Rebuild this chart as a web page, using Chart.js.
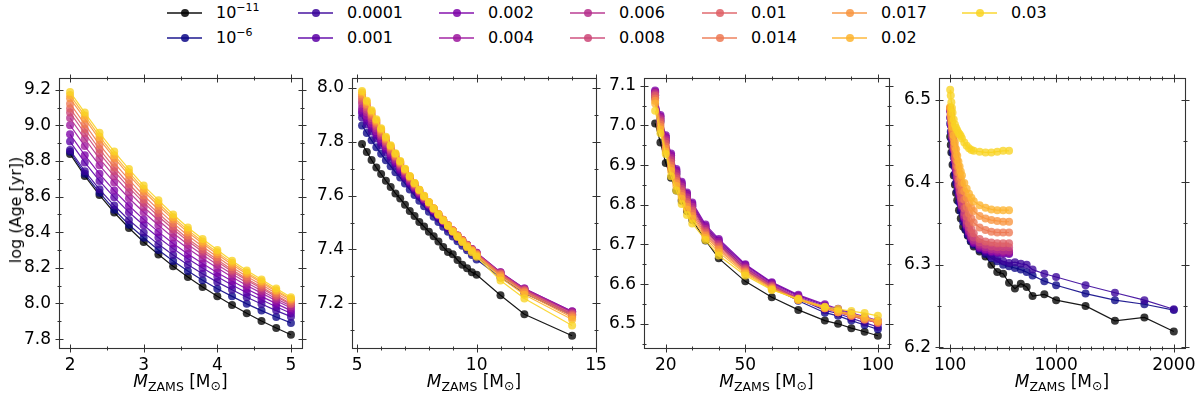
<!DOCTYPE html>
<html><head><meta charset="utf-8">
<script src="https://cdn.jsdelivr.net/npm/chart.js@4.4.1/dist/chart.umd.min.js"></script>
<style>
html,body{margin:0;padding:0;background:#fff;width:1200px;height:398px;overflow:hidden;font-family:'DejaVu Sans',sans-serif;}
#wrap{position:relative;width:1200px;height:398px;}
canvas.pc{position:absolute;top:60px;}
.lgl{position:absolute;height:2px;}
.lgd{position:absolute;width:8px;height:8px;border-radius:50%;}
.lgt{position:absolute;font-size:16px;line-height:18px;color:#000;white-space:nowrap;}
.lgt sup{font-size:11px;line-height:0;vertical-align:baseline;position:relative;top:-7px;}
.xt{position:absolute;top:371px;font-size:17px;line-height:20px;white-space:nowrap;transform:translateX(-50%);color:#000;}
.xt sub{font-size:12.5px;position:relative;top:3px;vertical-align:baseline;line-height:0;}
.xt sub.s{top:4px;}
.yt{position:absolute;left:16px;top:210px;font-size:16px;line-height:18px;white-space:nowrap;transform:translate(-50%,-50%) rotate(-90deg);color:#000;}
</style></head>
<body><div id="wrap"></div>
<script>
// ---------- series labels & colours ----------
const Z_LABELS = ['10<sup>−11</sup>','10<sup>−6</sup>','0.0001','0.001','0.002','0.004','0.006','0.008','0.01','0.014','0.017','0.02','0.03'];
const COLORS = ['#000000','#0d0887','#3a049a','#5c01a6','#7e03a8','#9c179e','#b52f8c','#cc4778','#de5f65','#ed7953','#f89540','#fdb42f','#f9d423'];

// ---------- panel 1 (2-5 Msun) ----------
const P1_MASS = [2.0,2.2,2.4,2.6,2.8,3.0,3.2,3.4,3.6,3.8,4.0,4.2,4.4,4.6,4.8,5.0];
const P1_Z_1e11 = [8.840,8.716,8.609,8.511,8.424,8.345,8.275,8.209,8.149,8.093,8.040,7.991,7.945,7.902,7.862,7.824];
const P1_Z_1e6  = [8.852,8.728,8.622,8.527,8.442,8.369,8.300,8.238,8.183,8.131,8.083,8.040,7.998,7.960,7.924,7.891];
const P1_Z_1e4  = [8.862,8.743,8.641,8.550,8.469,8.398,8.332,8.272,8.218,8.167,8.120,8.077,8.035,7.997,7.960,7.926];
const P1_Z_001  = [8.909,8.792,8.688,8.596,8.512,8.439,8.371,8.308,8.251,8.199,8.150,8.104,8.060,8.021,7.982,7.945];
const P1_Z_002  = [8.950,8.833,8.728,8.634,8.549,8.472,8.402,8.337,8.278,8.224,8.173,8.126,8.081,8.040,7.999,7.960];
const P1_Z_004  = [9.001,8.884,8.776,8.680,8.591,8.512,8.439,8.370,8.309,8.252,8.199,8.149,8.101,8.058,8.015,7.975];
const P1_Z_006  = [9.041,8.925,8.814,8.715,8.625,8.542,8.467,8.396,8.331,8.273,8.218,8.165,8.116,8.072,8.027,7.985];
const P1_Z_008  = [9.072,8.956,8.843,8.743,8.651,8.566,8.490,8.417,8.351,8.291,8.234,8.180,8.130,8.084,8.038,7.995];
const P1_Z_010  = [9.095,8.980,8.866,8.764,8.671,8.584,8.506,8.432,8.364,8.303,8.245,8.190,8.139,8.092,8.045,8.000];
const P1_Z_014  = [9.122,9.007,8.892,8.790,8.695,8.606,8.527,8.451,8.382,8.320,8.261,8.204,8.152,8.105,8.056,8.011];
const P1_Z_017  = [9.152,9.038,8.921,8.817,8.721,8.630,8.549,8.471,8.400,8.337,8.276,8.218,8.165,8.116,8.067,8.021];
const P1_Z_020  = [9.170,9.055,8.938,8.833,8.736,8.644,8.563,8.484,8.412,8.348,8.287,8.228,8.174,8.125,8.074,8.026];
const P1_Z_030  = [9.188,9.072,8.958,8.853,8.755,8.662,8.580,8.500,8.427,8.362,8.300,8.240,8.185,8.135,8.084,8.035];

// ---------- panel 2 (5-14 Msun) ----------
const P2_MASS = [5.2,5.4,5.6,5.8,6.0,6.2,6.4,6.6,6.8,7.0,7.2,7.4,7.6,7.8,8.0,8.2,8.4,8.6,8.8,9.0,9.2,9.4,9.6,9.8,10.0,11,12,14];
const P2_Z_1e11 = [7.791,7.762,7.732,7.704,7.680,7.655,7.632,7.608,7.589,7.566,7.543,7.524,7.502,7.485,7.466,7.449,7.430,7.409,7.391,7.382,7.361,7.343,7.330,7.316,7.306,7.230,7.160,7.080];
const P2_Z_1e6  = [7.860,7.832,7.805,7.779,7.755,7.731,7.709,7.687,7.667,7.645,7.623,7.602,7.581,7.560,7.540,7.521,7.502,7.484,7.466,7.448,7.431,7.414,7.397,7.380,7.363,7.296,7.238,7.155];
const P2_Z_1e4  = [7.890,7.864,7.838,7.812,7.786,7.761,7.736,7.711,7.687,7.663,7.640,7.618,7.596,7.575,7.555,7.535,7.515,7.496,7.477,7.458,7.440,7.423,7.405,7.388,7.372,7.305,7.245,7.160];
const P2_Z_001  = [7.905,7.878,7.851,7.824,7.797,7.771,7.745,7.719,7.694,7.670,7.647,7.625,7.603,7.582,7.562,7.542,7.522,7.502,7.483,7.464,7.446,7.430,7.413,7.397,7.382,7.312,7.252,7.168];
const P2_Z_002  = [7.915,7.887,7.859,7.831,7.804,7.777,7.750,7.724,7.698,7.674,7.651,7.628,7.606,7.585,7.565,7.545,7.525,7.505,7.486,7.468,7.450,7.434,7.417,7.402,7.388,7.316,7.255,7.171];
const P2_Z_004  = [7.925,7.896,7.867,7.839,7.811,7.783,7.756,7.729,7.703,7.678,7.654,7.631,7.609,7.587,7.567,7.546,7.526,7.506,7.487,7.469,7.451,7.434,7.418,7.402,7.388,7.316,7.255,7.170];
const P2_Z_006  = [7.940,7.909,7.879,7.849,7.820,7.791,7.763,7.736,7.710,7.684,7.659,7.635,7.612,7.590,7.569,7.548,7.528,7.508,7.489,7.470,7.452,7.435,7.417,7.401,7.386,7.314,7.253,7.166];
const P2_Z_008  = [7.950,7.918,7.887,7.856,7.826,7.797,7.768,7.741,7.714,7.688,7.663,7.638,7.615,7.593,7.571,7.550,7.529,7.509,7.490,7.470,7.452,7.434,7.417,7.400,7.385,7.312,7.250,7.162];
const P2_Z_010  = [7.960,7.927,7.895,7.863,7.832,7.802,7.773,7.745,7.718,7.691,7.666,7.641,7.618,7.595,7.573,7.551,7.531,7.510,7.490,7.471,7.452,7.434,7.416,7.400,7.384,7.310,7.248,7.158];
const P2_Z_014  = [7.968,7.934,7.901,7.869,7.837,7.807,7.777,7.748,7.721,7.694,7.668,7.643,7.619,7.596,7.574,7.552,7.531,7.510,7.490,7.470,7.451,7.433,7.415,7.398,7.382,7.306,7.244,7.153];
const P2_Z_017  = [7.975,7.940,7.907,7.874,7.842,7.811,7.781,7.752,7.724,7.696,7.670,7.645,7.621,7.597,7.575,7.553,7.531,7.510,7.490,7.469,7.450,7.432,7.414,7.396,7.380,7.302,7.240,7.148];
const P2_Z_020  = [7.982,7.947,7.912,7.879,7.846,7.815,7.784,7.755,7.726,7.699,7.672,7.647,7.622,7.599,7.576,7.553,7.532,7.510,7.490,7.469,7.449,7.431,7.412,7.395,7.378,7.296,7.232,7.140];
const P2_Z_030  = [7.988,7.952,7.917,7.883,7.850,7.818,7.787,7.757,7.728,7.700,7.673,7.647,7.622,7.598,7.575,7.552,7.530,7.508,7.487,7.466,7.446,7.427,7.408,7.390,7.373,7.285,7.218,7.118];

// ---------- panel 3 (16-100 Msun) ----------
const P3_MASS = [16,18,20,22,24,26,28,30,35,40,50,60,70,80,85,90,95,100];
const P3_Z_1e11 = [7.005,6.957,6.905,6.868,6.836,6.810,6.784,6.762,6.710,6.665,6.607,6.567,6.535,6.508,6.500,6.489,6.480,6.470];
const P3_Z_1e6  = [7.070,7.010,6.958,6.912,6.876,6.845,6.819,6.795,6.737,6.700,6.636,6.592,6.558,6.528,6.520,6.508,6.497,6.486];
const P3_Z_1e4  = [7.076,7.015,6.964,6.918,6.881,6.850,6.823,6.798,6.741,6.705,6.641,6.597,6.563,6.534,6.526,6.514,6.503,6.492];
const P3_Z_001  = [7.084,7.022,6.970,6.925,6.886,6.854,6.827,6.802,6.746,6.710,6.648,6.603,6.571,6.546,6.535,6.524,6.514,6.503];
const P3_Z_002  = [7.088,7.026,6.975,6.929,6.890,6.858,6.831,6.806,6.750,6.714,6.650,6.605,6.573,6.549,6.538,6.527,6.518,6.508];
const P3_Z_004  = [7.085,7.022,6.970,6.924,6.884,6.852,6.825,6.800,6.744,6.707,6.645,6.600,6.568,6.543,6.532,6.522,6.512,6.503];
const P3_Z_006  = [7.082,7.018,6.965,6.918,6.879,6.846,6.819,6.795,6.739,6.702,6.641,6.597,6.565,6.541,6.530,6.520,6.511,6.502];
const P3_Z_008  = [7.078,7.013,6.960,6.912,6.872,6.840,6.813,6.789,6.734,6.698,6.638,6.595,6.563,6.540,6.529,6.520,6.511,6.502];
const P3_Z_010  = [7.074,7.008,6.954,6.906,6.866,6.834,6.807,6.784,6.730,6.694,6.635,6.593,6.562,6.539,6.529,6.520,6.511,6.503];
const P3_Z_014  = [7.068,7.002,6.947,6.899,6.860,6.828,6.801,6.778,6.725,6.690,6.632,6.591,6.561,6.539,6.529,6.521,6.512,6.504];
const P3_Z_017  = [7.062,6.996,6.941,6.892,6.854,6.822,6.795,6.772,6.721,6.686,6.629,6.589,6.560,6.540,6.530,6.522,6.513,6.505];
const P3_Z_020  = [7.055,6.990,6.934,6.885,6.847,6.815,6.788,6.765,6.716,6.680,6.626,6.587,6.560,6.541,6.532,6.525,6.516,6.507];
const P3_Z_030  = [7.037,6.980,6.928,6.872,6.836,6.802,6.774,6.753,6.711,6.672,6.622,6.585,6.563,6.543,6.537,6.532,6.527,6.520];

// ---------- panel 4 (100-2000 Msun) ----------
const P4_MASS_LONG  = [100,105,110,120,130,140,150,160,175,190,210,230,250,275,300,350,400,450,500,550,600,650,700,750,800,900,1000,1250,1500,1750,2000];
const P4_MASS_SHORT = [100,105,110,115,120,130,140,150,160,170,180,190,200,220,240,260,280,300,350,400,450,500,550,600];
const P4_Z_1e11 = [6.455,6.445,6.436,6.421,6.408,6.397,6.387,6.378,6.366,6.356,6.346,6.342,6.335,6.328,6.322,6.316,6.310,6.300,6.291,6.289,6.278,6.271,6.277,6.273,6.262,6.264,6.257,6.250,6.232,6.236,6.219];
const P4_Z_1e6  = [6.471,6.461,6.452,6.436,6.422,6.410,6.399,6.389,6.376,6.365,6.352,6.343,6.336,6.329,6.324,6.318,6.313,6.308,6.304,6.300,6.298,6.296,6.294,6.291,6.287,6.280,6.275,6.265,6.257,6.252,6.245];
const P4_Z_1e4  = [6.478,6.469,6.460,6.444,6.430,6.418,6.407,6.397,6.384,6.373,6.360,6.350,6.342,6.334,6.327,6.320,6.315,6.310,6.307,6.304,6.302,6.303,6.301,6.300,6.294,6.289,6.285,6.275,6.266,6.257,6.246];
const P4_Z_001  = [6.486,6.477,6.468,6.460,6.452,6.438,6.425,6.413,6.402,6.392,6.383,6.375,6.368,6.355,6.345,6.337,6.331,6.326,6.320,6.317,6.315,6.314,6.313,6.313];
const P4_Z_002  = [6.487,6.478,6.469,6.461,6.453,6.439,6.426,6.414,6.404,6.394,6.385,6.377,6.370,6.357,6.347,6.339,6.332,6.327,6.321,6.318,6.316,6.315,6.314,6.314];
const P4_Z_004  = [6.488,6.479,6.470,6.462,6.454,6.440,6.427,6.415,6.405,6.395,6.386,6.378,6.371,6.358,6.348,6.340,6.333,6.328,6.322,6.319,6.317,6.316,6.315,6.315];
const P4_Z_006  = [6.488,6.479,6.471,6.463,6.455,6.441,6.428,6.417,6.406,6.397,6.388,6.380,6.372,6.360,6.350,6.342,6.335,6.330,6.324,6.321,6.319,6.318,6.317,6.317];
const P4_Z_008  = [6.489,6.480,6.472,6.464,6.456,6.442,6.430,6.419,6.409,6.399,6.390,6.382,6.375,6.363,6.353,6.345,6.338,6.333,6.327,6.324,6.322,6.321,6.321,6.321];
const P4_Z_010  = [6.489,6.481,6.473,6.465,6.458,6.445,6.433,6.422,6.412,6.403,6.395,6.387,6.380,6.368,6.358,6.350,6.343,6.338,6.331,6.328,6.327,6.326,6.326,6.326];
const P4_Z_014  = [6.490,6.482,6.475,6.468,6.461,6.449,6.438,6.428,6.419,6.411,6.403,6.396,6.390,6.379,6.370,6.362,6.356,6.351,6.345,6.342,6.340,6.339,6.339,6.339];
const P4_Z_017  = [6.490,6.483,6.477,6.470,6.464,6.453,6.443,6.434,6.426,6.418,6.411,6.405,6.399,6.389,6.381,6.374,6.369,6.365,6.359,6.356,6.354,6.353,6.352,6.352];
const P4_Z_020  = [6.491,6.485,6.479,6.473,6.467,6.457,6.448,6.440,6.432,6.425,6.419,6.413,6.408,6.399,6.392,6.386,6.381,6.377,6.372,6.369,6.367,6.366,6.366,6.366];
const P4_Z_030  = [6.512,6.505,6.497,6.490,6.484,6.476,6.470,6.466,6.463,6.460,6.458,6.456,6.453,6.448,6.444,6.441,6.439,6.438,6.437,6.436,6.436,6.437,6.438,6.438];

// ---------- tick values ----------
const P1_XTICKS = [2,3,4,5], P1_XMINOR = [2.5,3.5,4.5];
const P1_YTICKS = [7.8,8.0,8.2,8.4,8.6,8.8,9.0,9.2], P1_YMINOR = [7.9,8.1,8.3,8.5,8.7,8.9,9.1];
const P2_XTICKS = [5,10,15], P2_XMINOR = [6,7,8,9,11,12,13,14];
const P2_YTICKS = [7.2,7.4,7.6,7.8,8.0], P2_YMINOR = [7.1,7.3,7.5,7.7,7.9];
const P3_XTICKS = [20,50,100], P3_XMINOR = [30,40,60,70,80,90];
const P3_YTICKS = [6.5,6.6,6.7,6.8,6.9,7.0,7.1], P3_YMINOR = [6.45,6.55,6.65,6.75,6.85,6.95,7.05];
const P4_XTICKS = [100,1000,2000], P4_XMINOR = [200,300,400,500,600,700,800,900,1100,1200,1300,1400,1500,1600,1700,1800,1900];
const P4_YTICKS = [6.2,6.3,6.4,6.5], P4_YMINOR = [6.25,6.35,6.45];

// ---------- build ----------
function rgba(hex,a){const n=parseInt(hex.slice(1),16);return 'rgba('+((n>>16)&255)+','+((n>>8)&255)+','+(n&255)+','+a+')';}

const PANELS = [
  {L:59,R:302, xmin:1.85,xmax:5.15, ymin:7.75,ymax:9.265, xt:P1_XTICKS,xm:P1_XMINOR,yt:P1_YTICKS,ym:P1_YMINOR,
   xs:Array(13).fill(P1_MASS),
   ys:[P1_Z_1e11,P1_Z_1e6,P1_Z_1e4,P1_Z_001,P1_Z_002,P1_Z_004,P1_Z_006,P1_Z_008,P1_Z_010,P1_Z_014,P1_Z_017,P1_Z_020,P1_Z_030]},
  {L:352,R:596, xmin:4.78,xmax:15.0, ymin:7.0345,ymax:8.0355, xt:P2_XTICKS,xm:P2_XMINOR,yt:P2_YTICKS,ym:P2_YMINOR,
   xs:Array(13).fill(P2_MASS),
   ys:[P2_Z_1e11,P2_Z_1e6,P2_Z_1e4,P2_Z_001,P2_Z_002,P2_Z_004,P2_Z_006,P2_Z_008,P2_Z_010,P2_Z_014,P2_Z_017,P2_Z_020,P2_Z_030]},
  {L:644,R:889, xmin:11.8,xmax:104.2, ymin:6.439,ymax:7.119, xt:P3_XTICKS,xm:P3_XMINOR,yt:P3_YTICKS,ym:P3_YMINOR,
   xs:Array(13).fill(P3_MASS),
   ys:[P3_Z_1e11,P3_Z_1e6,P3_Z_1e4,P3_Z_001,P3_Z_002,P3_Z_004,P3_Z_006,P3_Z_008,P3_Z_010,P3_Z_014,P3_Z_017,P3_Z_020,P3_Z_030]},
  {L:939,R:1185, xmin:5,xmax:2095, ymin:6.199,ymax:6.526, xt:P4_XTICKS,xm:P4_XMINOR,yt:P4_YTICKS,ym:P4_YMINOR,
   xs:[P4_MASS_LONG,P4_MASS_LONG,P4_MASS_LONG].concat(Array(10).fill(P4_MASS_SHORT)),
   ys:[P4_Z_1e11,P4_Z_1e6,P4_Z_1e4,P4_Z_001,P4_Z_002,P4_Z_004,P4_Z_006,P4_Z_008,P4_Z_010,P4_Z_014,P4_Z_017,P4_Z_020,P4_Z_030]}
];

const frameTicks = {
  id:'frameTicks',
  afterDatasetsDraw(chart, args, o){
    const ctx=chart.ctx, a=chart.chartArea, sx=chart.scales.x, sy=chart.scales.y;
    ctx.save();
    ctx.strokeStyle='#333'; ctx.lineWidth=1;
    ctx.beginPath();
    const l=Math.round(a.left)+0.5, r=Math.round(a.right)+0.5, t=Math.round(a.top)+0.5, b=Math.round(a.bottom)+0.5;
    const vx=(v,h)=>{const p=Math.round(sx.getPixelForValue(v))+0.5; ctx.moveTo(p,b-h); ctx.lineTo(p,b+h); ctx.moveTo(p,t-h); ctx.lineTo(p,t+h);};
    const vy=(v,h)=>{const p=Math.round(sy.getPixelForValue(v))+0.5; ctx.moveTo(l-h,p); ctx.lineTo(l+h,p); ctx.moveTo(r-h,p); ctx.lineTo(r+h,p);};
    sx.ticks.forEach(k=>vx(k.value,4)); (o.xm||[]).forEach(v=>vx(v,2));
    sy.ticks.forEach(k=>vy(k.value,4)); (o.ym||[]).forEach(v=>vy(v,2));
    ctx.stroke();
    ctx.lineWidth=1.1;
    ctx.strokeRect(l,t,r-l,b-t);
    ctx.restore();
  }
};

const wrap=document.getElementById('wrap');
const YW=56, PR=22, PT=12, XH=50, CH=338;
PANELS.forEach((p)=>{
  const cv=document.createElement('canvas');
  cv.className='pc';
  const w=(p.R-p.L)+YW+PR;
  cv.width=w; cv.height=CH;
  cv.style.left=(p.L-YW)+'px'; cv.style.width=w+'px'; cv.style.height=CH+'px';
  wrap.appendChild(cv);
  const datasets=p.ys.map((ys,i)=>({
    label:'s'+i,
    data:p.xs[i].map((x,j)=>({x:x,y:ys[j]})),
    borderColor:rgba(COLORS[i],0.9),
    backgroundColor:rgba(COLORS[i],0.8),
    pointBackgroundColor:rgba(COLORS[i],0.78),
    pointBorderWidth:0,
    pointRadius:4,
    borderWidth:1.2,
    tension:0,
    order:12-i
  }));
  const tickFont={family:'DejaVu Sans',size:17};
  new Chart(cv.getContext('2d'),{
    type:'line',
    data:{datasets},
    options:{
      responsive:false, animation:false, events:[], devicePixelRatio:1,
      layout:{padding:{left:0,right:PR,top:PT,bottom:0}},
      plugins:{legend:{display:false},tooltip:{enabled:false},frameTicks:{xm:p.xm,ym:p.ym}},
      scales:{
        x:{type:'linear',min:p.xmin,max:p.xmax,
           grid:{display:false,drawTicks:false},border:{display:false},
           afterBuildTicks:s=>{s.ticks=p.xt.map(v=>({value:v}));},
           afterFit:s=>{s.height=XH;},
           ticks:{autoSkip:false,maxRotation:0,padding:7,color:'#000',font:tickFont,callback:v=>String(v)}},
        y:{type:'linear',min:p.ymin,max:p.ymax,
           grid:{display:false,drawTicks:false},border:{display:false},
           afterBuildTicks:s=>{s.ticks=p.yt.map(v=>({value:v}));},
           afterFit:s=>{s.width=YW;},
           ticks:{autoSkip:false,padding:8,color:'#000',font:tickFont,callback:v=>Number(v).toFixed(1)}}
      }
    },
    plugins:[frameTicks]
  });
  const xt=document.createElement('div');
  xt.className='xt';
  xt.style.left=((p.L+p.R)/2)+'px';
  xt.innerHTML='<i>M</i><sub class="s">ZAMS</sub> [M<sub>⊙</sub>]';
  wrap.appendChild(xt);
});
const yt=document.createElement('div');
yt.className='yt'; yt.textContent='log (Age [yr])';
wrap.appendChild(yt);

// legend
const LEG_X=[216,347,488,619,751,881,1011];
Z_LABELS.forEach((lab,i)=>{
  const col=Math.floor(i/2), row=i%2, tx=LEG_X[col], cy=row?38:13;
  const ln=document.createElement('div'); ln.className='lgl';
  ln.style.left=(tx-49)+'px'; ln.style.width='35px'; ln.style.top=(cy-1)+'px'; ln.style.background=rgba(COLORS[i],0.7);
  const d=document.createElement('div'); d.className='lgd';
  d.style.left=(tx-35.5)+'px'; d.style.top=(cy-4)+'px'; d.style.background=rgba(COLORS[i],0.85);
  const t=document.createElement('div'); t.className='lgt';
  t.style.left=tx+'px'; t.style.top=(cy-9)+'px'; t.innerHTML=lab;
  wrap.appendChild(ln); wrap.appendChild(d); wrap.appendChild(t);
});
</script></body></html>
